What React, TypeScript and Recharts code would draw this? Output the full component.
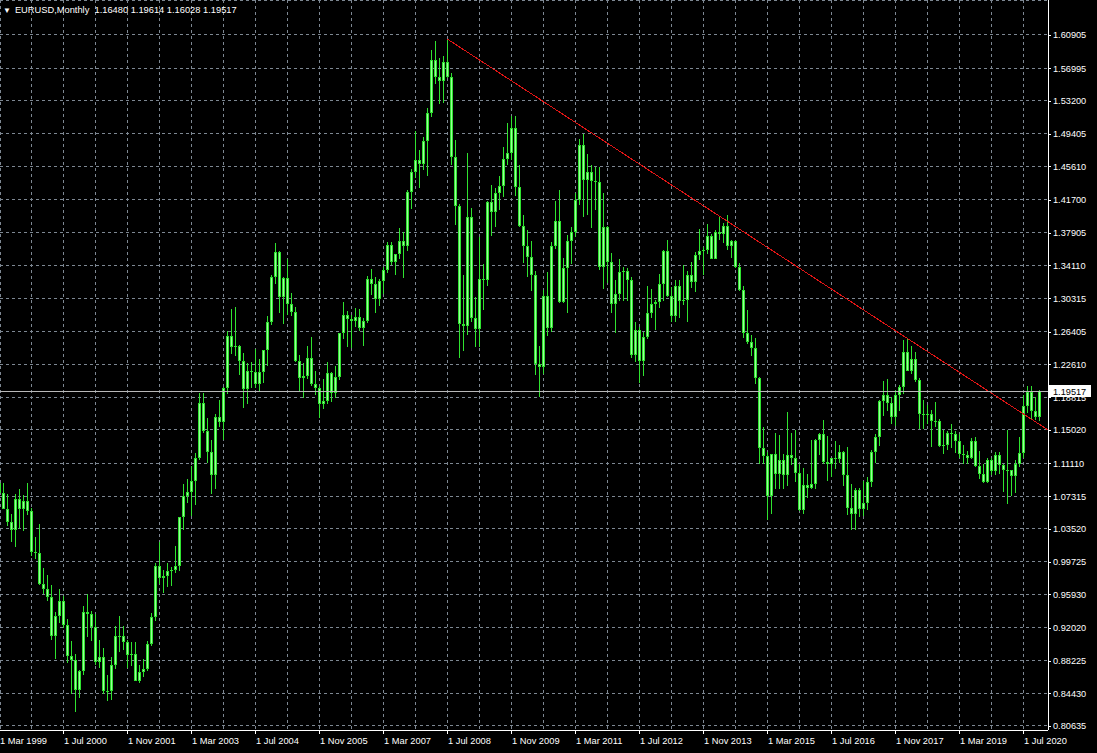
import React from 'react';
import { ComposedChart, Bar, XAxis, YAxis, CartesianGrid, ReferenceLine } from 'recharts';

// EURUSD monthly candles, index 0 = Mar 1999 ... index 260 = Nov 2020
const opens = [
  1.0882, 1.0765, 1.0580, 1.0430, 1.0340, 1.0700, 1.0580, 1.0680, 1.0560, 1.0080,
  1.0070, 0.9710, 0.9650, 0.9560, 0.9110, 0.9340, 0.9520, 0.9240, 0.8880, 0.8830, 0.8480, 0.8700,
  0.9390, 0.9360, 0.9210, 0.8810, 0.8860, 0.8470, 0.8470, 0.8770, 0.9110, 0.9110, 0.9040, 0.8890,
  0.8900, 0.8590, 0.8690, 0.8720, 0.9010, 0.9330, 0.9920, 0.9780, 0.9810, 0.9860, 0.9880, 0.9920,
  1.0490, 1.0730, 1.0780, 1.0910, 1.1170, 1.1810, 1.1490, 1.1240, 1.0980, 1.1650, 1.1590, 1.1990,
  1.2590, 1.2460, 1.2480, 1.2300, 1.1970, 1.2190, 1.2170, 1.2030, 1.2170, 1.2430, 1.2750, 1.3270,
  1.3570, 1.3040, 1.3260, 1.2960, 1.2870, 1.2300, 1.2100, 1.2130, 1.2340, 1.2030, 1.1990, 1.1800,
  1.1840, 1.2160, 1.1930, 1.2110, 1.2620, 1.2840, 1.2790, 1.2760, 1.2810, 1.2680, 1.2760, 1.3250,
  1.3200, 1.3020, 1.3230, 1.3360, 1.3650, 1.3450, 1.3540, 1.3690, 1.3630, 1.4260, 1.4490, 1.4630,
  1.4590, 1.4860, 1.5180, 1.5790, 1.5600, 1.5550, 1.5770, 1.5600, 1.4670, 1.4100, 1.2730, 1.2710,
  1.3970, 1.2800, 1.2670, 1.3250, 1.3240, 1.4150, 1.4030, 1.4250, 1.4330, 1.4640, 1.4720, 1.5000,
  1.4320, 1.3870, 1.3630, 1.3510, 1.3300, 1.2270, 1.2230, 1.3050, 1.2680, 1.3630, 1.3920, 1.2990,
  1.3380, 1.3690, 1.3800, 1.4170, 1.4810, 1.4400, 1.4500, 1.4390, 1.4380, 1.3390, 1.3860, 1.3450,
  1.2960, 1.3080, 1.3330, 1.3340, 1.3240, 1.2370, 1.2660, 1.2300, 1.2580, 1.2860, 1.2960, 1.2990,
  1.3190, 1.3580, 1.3060, 1.2820, 1.3170, 1.3000, 1.3010, 1.3300, 1.3220, 1.3530, 1.3580, 1.3590,
  1.3750, 1.3490, 1.3800, 1.3770, 1.3870, 1.3630, 1.3690, 1.3390, 1.3130, 1.2630, 1.2520, 1.2450,
  1.2100, 1.1290, 1.1200, 1.0730, 1.1220, 1.0990, 1.1150, 1.0980, 1.1210, 1.1180, 1.1000, 1.0570,
  1.0860, 1.0830, 1.0870, 1.1380, 1.1450, 1.1130, 1.1100, 1.1170, 1.1160, 1.1240, 1.0980, 1.0590,
  1.0520, 1.0800, 1.0580, 1.0650, 1.0900, 1.1240, 1.1420, 1.1840, 1.1910, 1.1810, 1.1650, 1.1900,
  1.2000, 1.2410, 1.2190, 1.2320, 1.2080, 1.1690, 1.1680, 1.1690, 1.1600, 1.1600, 1.1310, 1.1320,
  1.1470, 1.1450, 1.1370, 1.1220, 1.1210, 1.1170, 1.1370, 1.1080, 1.0990, 1.0900, 1.1150, 1.1020,
  1.1210, 1.1090, 1.1030, 1.1030, 1.0960, 1.1100, 1.1230, 1.1780, 1.1940, 1.1720, 1.1648,
];

const highs = [
  1.1000, 1.0880, 1.0760, 1.0530, 1.0760, 1.0820, 1.0750, 1.0880, 1.0590, 1.0260,
  1.0410, 0.9900, 0.9820, 0.9700, 0.9390, 0.9650, 0.9570, 0.9300, 0.9050, 0.8900, 0.8710, 0.9460,
  0.9590, 0.9400, 0.9360, 0.9060, 0.8970, 0.8660, 0.8860, 0.9230, 0.9340, 0.9220, 0.9060, 0.9040,
  0.9040, 0.8770, 0.8840, 0.9050, 0.9380, 0.9960, 1.0200, 0.9880, 0.9960, 0.9910, 1.0150, 1.0490,
  1.0870, 1.0930, 1.1080, 1.1230, 1.1930, 1.1930, 1.1640, 1.1380, 1.1680, 1.1850, 1.2000, 1.2650,
  1.2900, 1.2930, 1.2490, 1.2390, 1.2280, 1.2290, 1.2440, 1.2320, 1.2430, 1.2820, 1.3300, 1.3670,
  1.3580, 1.3280, 1.3480, 1.3090, 1.2930, 1.2370, 1.2280, 1.2480, 1.2580, 1.2190, 1.2010, 1.2090,
  1.2290, 1.2170, 1.2240, 1.2630, 1.2980, 1.2880, 1.2840, 1.2910, 1.2900, 1.2800, 1.3290, 1.3370,
  1.3270, 1.3250, 1.3390, 1.3680, 1.3680, 1.3540, 1.3850, 1.3800, 1.4280, 1.4530, 1.4970, 1.4750,
  1.4900, 1.5240, 1.5910, 1.6020, 1.5820, 1.5840, 1.6040, 1.5640, 1.4870, 1.4120, 1.3300, 1.4720,
  1.4080, 1.3040, 1.3740, 1.3430, 1.4160, 1.4340, 1.4310, 1.4450, 1.4790, 1.5060, 1.5140, 1.5140,
  1.4580, 1.3990, 1.3820, 1.3690, 1.3340, 1.2470, 1.3130, 1.3330, 1.3680, 1.4160, 1.4280, 1.3500,
  1.3760, 1.3860, 1.4250, 1.4880, 1.4940, 1.4700, 1.4580, 1.4550, 1.4550, 1.4250, 1.3870, 1.3550,
  1.3240, 1.3490, 1.3390, 1.3380, 1.3280, 1.2750, 1.2690, 1.2640, 1.3170, 1.3140, 1.3010, 1.3310,
  1.3590, 1.3710, 1.3160, 1.3240, 1.3240, 1.3420, 1.3350, 1.3450, 1.3570, 1.3830, 1.3620, 1.3890,
  1.3770, 1.3820, 1.3970, 1.3900, 1.3990, 1.3700, 1.3700, 1.3440, 1.3170, 1.2890, 1.2600, 1.2570,
  1.2120, 1.1530, 1.1240, 1.1220, 1.1470, 1.1440, 1.1220, 1.1710, 1.1460, 1.1500, 1.1100, 1.1060,
  1.0990, 1.1380, 1.1390, 1.1460, 1.1620, 1.1430, 1.1180, 1.1370, 1.1330, 1.1260, 1.1300, 1.0870,
  1.0830, 1.0830, 1.0910, 1.0950, 1.1270, 1.1450, 1.1850, 1.2070, 1.2090, 1.1880, 1.1960, 1.2020,
  1.2540, 1.2555, 1.2480, 1.2410, 1.2100, 1.1850, 1.1790, 1.1730, 1.1820, 1.1630, 1.1500, 1.1490,
  1.1570, 1.1490, 1.1450, 1.1320, 1.1260, 1.1410, 1.1420, 1.1250, 1.1110, 1.1180, 1.1180, 1.1240,
  1.1240, 1.1100, 1.1500, 1.1040, 1.1150, 1.1420, 1.1910, 1.2010, 1.2010, 1.1880, 1.19614,
];

const lows = [
  1.0710, 1.0580, 1.0380, 1.0200, 1.0140, 1.0350, 1.0330, 1.0510, 1.0040, 1.0000,
  0.9700, 0.9600, 0.9520, 0.9060, 0.8840, 0.9260, 0.9200, 0.8790, 0.8440, 0.8225, 0.8390, 0.8660,
  0.9100, 0.9050, 0.8770, 0.8740, 0.8440, 0.8350, 0.8370, 0.8720, 0.8920, 0.8950, 0.8740, 0.8760,
  0.8580, 0.8560, 0.8630, 0.8700, 0.8990, 0.9280, 0.9710, 0.9610, 0.9680, 0.9690, 0.9840, 0.9860,
  1.0340, 1.0650, 1.0500, 1.0630, 1.1150, 1.1460, 1.1120, 1.0760, 1.0810, 1.1540, 1.1380, 1.1920,
  1.2380, 1.2360, 1.2140, 1.1760, 1.1800, 1.1990, 1.1990, 1.1950, 1.2050, 1.2240, 1.2720, 1.3200,
  1.2860, 1.2730, 1.2840, 1.2820, 1.2290, 1.1950, 1.1870, 1.2090, 1.2010, 1.1910, 1.1640, 1.1740,
  1.1800, 1.1820, 1.1870, 1.2080, 1.2560, 1.2460, 1.2450, 1.2700, 1.2650, 1.2480, 1.2740, 1.3070,
  1.2860, 1.2940, 1.3080, 1.3320, 1.3410, 1.3300, 1.3480, 1.3260, 1.3580, 1.4070, 1.4430, 1.4310,
  1.4520, 1.4450, 1.5130, 1.5520, 1.5280, 1.5290, 1.5580, 1.4580, 1.3880, 1.2330, 1.2420, 1.2600,
  1.2750, 1.2460, 1.2460, 1.2890, 1.3170, 1.3750, 1.3860, 1.4050, 1.4200, 1.4570, 1.4630, 1.4210,
  1.3860, 1.3440, 1.3270, 1.3110, 1.2140, 1.1880, 1.2150, 1.2590, 1.2640, 1.3600, 1.2970, 1.2970,
  1.2860, 1.3430, 1.3740, 1.4110, 1.3970, 1.4000, 1.3840, 1.4050, 1.3360, 1.3140, 1.3210, 1.2860,
  1.2620, 1.3000, 1.3000, 1.3000, 1.2340, 1.2290, 1.2040, 1.2130, 1.2560, 1.2800, 1.2660, 1.2920,
  1.3000, 1.3040, 1.2750, 1.2750, 1.2800, 1.2950, 1.2750, 1.3150, 1.3100, 1.3470, 1.3300, 1.3540,
  1.3490, 1.3480, 1.3700, 1.3670, 1.3590, 1.3500, 1.3380, 1.3110, 1.2570, 1.2500, 1.2360, 1.2030,
  1.1100, 1.1100, 1.0460, 1.0520, 1.0820, 1.0820, 1.0810, 1.0850, 1.1090, 1.0900, 1.0560, 1.0520,
  1.0710, 1.0810, 1.0820, 1.1210, 1.1100, 1.0910, 1.0950, 1.1050, 1.1120, 1.0850, 1.0510, 1.0340,
  1.0340, 1.0490, 1.0500, 1.0570, 1.0840, 1.1120, 1.1310, 1.1660, 1.1720, 1.1570, 1.1550, 1.1720,
  1.1920, 1.2180, 1.2150, 1.2060, 1.1510, 1.1510, 1.1570, 1.1300, 1.1530, 1.1300, 1.1220, 1.1270,
  1.1290, 1.1230, 1.1180, 1.1110, 1.1110, 1.1160, 1.1070, 1.0930, 1.0880, 1.0880, 1.0980, 1.0980,
  1.0990, 1.0780, 1.0640, 1.0730, 1.0770, 1.1070, 1.1180, 1.1700, 1.1610, 1.1610, 1.16028,
];

const closes = [
  1.0765, 1.0580, 1.0430, 1.0340, 1.0700, 1.0580, 1.0680, 1.0560, 1.0080, 1.0070,
  0.9710, 0.9650, 0.9560, 0.9110, 0.9340, 0.9520, 0.9240, 0.8880, 0.8830, 0.8480, 0.8700, 0.9390,
  0.9360, 0.9210, 0.8810, 0.8860, 0.8470, 0.8470, 0.8770, 0.9110, 0.9110, 0.9040, 0.8890, 0.8900,
  0.8590, 0.8690, 0.8720, 0.9010, 0.9330, 0.9920, 0.9780, 0.9810, 0.9860, 0.9880, 0.9920, 1.0490,
  1.0730, 1.0780, 1.0910, 1.1170, 1.1810, 1.1490, 1.1240, 1.0980, 1.1650, 1.1590, 1.1990, 1.2590,
  1.2460, 1.2480, 1.2300, 1.1970, 1.2190, 1.2170, 1.2030, 1.2170, 1.2430, 1.2750, 1.3270, 1.3570,
  1.3040, 1.3260, 1.2960, 1.2870, 1.2300, 1.2100, 1.2130, 1.2340, 1.2030, 1.1990, 1.1800, 1.1840,
  1.2160, 1.1930, 1.2110, 1.2620, 1.2840, 1.2790, 1.2760, 1.2810, 1.2680, 1.2760, 1.3250, 1.3200,
  1.3020, 1.3230, 1.3360, 1.3650, 1.3450, 1.3540, 1.3690, 1.3630, 1.4260, 1.4490, 1.4630, 1.4590,
  1.4860, 1.5180, 1.5790, 1.5600, 1.5550, 1.5770, 1.5600, 1.4670, 1.4100, 1.2730, 1.2710, 1.3970,
  1.2800, 1.2670, 1.3250, 1.3240, 1.4150, 1.4030, 1.4250, 1.4330, 1.4640, 1.4720, 1.5000, 1.4320,
  1.3870, 1.3630, 1.3510, 1.3300, 1.2270, 1.2230, 1.3050, 1.2680, 1.3630, 1.3920, 1.2990, 1.3380,
  1.3690, 1.3800, 1.4170, 1.4810, 1.4400, 1.4500, 1.4390, 1.4380, 1.3390, 1.3860, 1.3450, 1.2960,
  1.3080, 1.3330, 1.3340, 1.3240, 1.2370, 1.2660, 1.2300, 1.2580, 1.2860, 1.2960, 1.2990, 1.3190,
  1.3580, 1.3060, 1.2820, 1.3170, 1.3000, 1.3010, 1.3300, 1.3220, 1.3530, 1.3580, 1.3590, 1.3750,
  1.3490, 1.3800, 1.3770, 1.3870, 1.3630, 1.3690, 1.3390, 1.3130, 1.2630, 1.2520, 1.2450, 1.2100,
  1.1290, 1.1200, 1.0730, 1.1220, 1.0990, 1.1150, 1.0980, 1.1210, 1.1180, 1.1000, 1.0570, 1.0860,
  1.0830, 1.0870, 1.1380, 1.1450, 1.1130, 1.1100, 1.1170, 1.1160, 1.1240, 1.0980, 1.0590, 1.0520,
  1.0800, 1.0580, 1.0650, 1.0900, 1.1240, 1.1420, 1.1840, 1.1910, 1.1810, 1.1650, 1.1900, 1.2000,
  1.2410, 1.2190, 1.2320, 1.2080, 1.1690, 1.1680, 1.1690, 1.1600, 1.1600, 1.1310, 1.1320, 1.1470,
  1.1450, 1.1370, 1.1220, 1.1210, 1.1170, 1.1370, 1.1080, 1.0990, 1.0900, 1.1150, 1.1020, 1.1210,
  1.1090, 1.1030, 1.1030, 1.0960, 1.1100, 1.1230, 1.1780, 1.1940, 1.1720, 1.1650, 1.19517,
];

// right price scale labels
const priceTicks = [
  1.60905, 1.56995, 1.532, 1.49405, 1.4561, 1.417, 1.37905, 1.3411, 1.30315, 1.26405, 1.2261,
  1.18815, 1.1502, 1.1111, 1.07315, 1.0352, 0.99725, 0.9593, 0.9202, 0.88225, 0.8443, 0.80635,
];

// vertical grid every 8 bars, date label every 16
const gridMonths = [
  0, 8, 16, 24, 32, 40, 48, 56, 64, 72, 80, 88, 96, 104, 112, 120, 128,
  136, 144, 152, 160, 168, 176, 184, 192, 200, 208, 216, 224, 232, 240, 248, 256,
];
const labelMonths = [0, 16, 32, 48, 64, 80, 96, 112, 128, 144, 160, 176, 192, 208, 224, 240, 256];
const dateLabels = [
  '1 Mar 1999', '1 Jul 2000', '1 Nov 2001', '1 Mar 2003', '1 Jul 2004', '1 Nov 2005',
  '1 Mar 2007', '1 Jul 2008', '1 Nov 2009', '1 Mar 2011', '1 Jul 2012', '1 Nov 2013',
  '1 Mar 2015', '1 Jul 2016', '1 Nov 2017', '1 Mar 2019', '1 Jul 2020',
];

// hand drawn resistance line: Jul 2008 high -> right edge
const trendLine = [
  { m: 112, p: 1.604 },
  { m: 262.25, p: 1.15 },
];

const X_DOMAIN = [0.25, 262.25];
const Y_DOMAIN = [0.8017, 1.6491];

const FONT = '"Liberation Sans", Arial, sans-serif';
const EDGE = '#2fe22f';
const CORE = '#9cff9c';

const candles = opens.map((o, i) => ({
  idx: i,
  open: o,
  high: highs[i],
  low: lows[i],
  close: closes[i],
}));

const last = candles[candles.length - 1];
const labelOf = new Map(labelMonths.map((m, i) => [m, dateLabels[i]]));

const Candle = (props: any) => {
  const { x, y, width, height, payload } = props;
  if (x == null || y == null || !payload) return null;
  const top = Math.min(y, y + height);
  const h = Math.abs(height);
  const span = payload.high - payload.low;
  const k = span > 0 ? h / span : 0;
  const cx = Math.round(x + width / 2);
  const yOf = (v: number) => top + (payload.high - v) * k;
  const bTop = Math.round(yOf(Math.max(payload.open, payload.close)));
  const bBot = Math.round(yOf(Math.min(payload.open, payload.close)));
  const bh = Math.max(1, bBot - bTop);
  return (
    <g>
      <line x1={cx + 0.5} x2={cx + 0.5} y1={top} y2={top + h} stroke={EDGE} />
      <rect x={cx - 1} y={bTop} width={3} height={bh} fill={EDGE} />
      {bh > 2 && <rect x={cx} y={bTop + 1} width={1} height={bh - 2} fill={CORE} />}
    </g>
  );
};

const DateTick = ({ x, y, payload }: any) => {
  const text = labelOf.get(payload.value);
  if (!text) return null;
  return (
    <g>
      <line x1={x + 0.5} x2={x + 0.5} y1={y} y2={y + 4} stroke="#fff" />
      <text x={x + 1} y={y + 13.5} fill="#fff" fontSize={9.3} fontFamily={FONT}>
        {text}
      </text>
    </g>
  );
};

const PriceTick = ({ x, y, payload }: any) => (
  <g>
    <line x1={x} x2={x + 3} y1={y + 0.5} y2={y + 0.5} stroke="#fff" />
    <text x={x + 5} y={y + 3.5} fill="#fff" fontSize={9.2} fontFamily={FONT}>
      {payload.value.toFixed(5)}
    </text>
  </g>
);

const PriceTag = ({ viewBox }: any) => {
  if (!viewBox) return null;
  const { x, y, width } = viewBox;
  return (
    <g>
      <rect x={x + width + 1} y={y - 6} width={42} height={12} fill="#fff" />
      <text x={x + width + 5} y={y + 3.5} fill="#000" fontSize={9.2} fontFamily={FONT}>
        {last.close.toFixed(5)}
      </text>
    </g>
  );
};

export default function App() {
  const title = `EURUSD,Monthly  ${last.open.toFixed(5)} ${last.high.toFixed(5)} ${last.low.toFixed(5)} ${last.close.toFixed(5)}`;
  return (
    <div
      style={{
        position: 'fixed',
        left: 0,
        top: 0,
        width: 1097,
        height: 753,
        background: '#000',
        overflow: 'hidden',
      }}
    >
      <ComposedChart
        width={1097}
        height={753}
        data={candles}
        margin={{ top: 0, right: 0, bottom: 0, left: 0 }}
        style={{ shapeRendering: 'crispEdges' }}
      >
        <CartesianGrid stroke="#7d8792" strokeDasharray="3 3" />
        <XAxis
          dataKey="idx"
          type="number"
          domain={X_DOMAIN}
          allowDataOverflow
          ticks={gridMonths}
          interval={0}
          height={23}
          tickSize={0}
          tickMargin={0}
          tick={<DateTick />}
          axisLine={{ stroke: '#fff' }}
        />
        <YAxis
          orientation="right"
          type="number"
          domain={Y_DOMAIN}
          allowDataOverflow
          ticks={priceTicks}
          interval={0}
          width={49}
          tickSize={0}
          tickMargin={0}
          tick={<PriceTick />}
          axisLine={{ stroke: '#fff' }}
        />
        <Bar
          dataKey={(d: any) => [d.low, d.high]}
          barSize={3}
          shape={(p: any) => <Candle {...p} />}
          isAnimationActive={false}
        />
        <ReferenceLine
          segment={trendLine.map((t) => ({ x: t.m, y: t.p }))}
          stroke="#e01515"
          strokeWidth={1}
        />
        <ReferenceLine y={last.close} stroke="#b8b8b8" label={<PriceTag />} />
      </ComposedChart>
      <div
        style={{
          position: 'absolute',
          left: 3,
          top: 4,
          color: '#fff',
          fontFamily: FONT,
          fontSize: 9.3,
          whiteSpace: 'pre',
          lineHeight: '12px',
        }}
      >
        <span style={{ fontSize: 8, marginRight: 4 }}>▼</span>
        {title}
      </div>
    </div>
  );
}
